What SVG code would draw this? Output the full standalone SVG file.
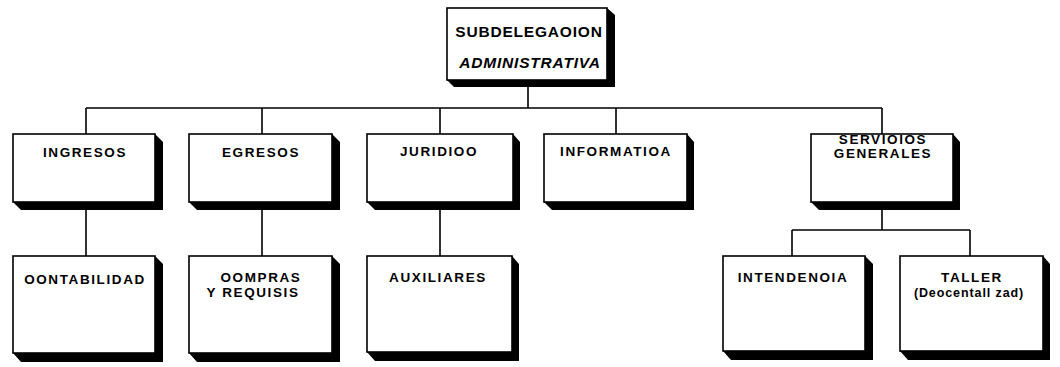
<svg xmlns="http://www.w3.org/2000/svg" width="1060" height="367" viewBox="0 0 1060 367">
<style>
.bg{fill:#fff}
.box{fill:#fff;stroke:#000;stroke-width:1.6}
.sh{fill:#000}
.t{font-family:"Liberation Sans",Arial,sans-serif;font-weight:bold;font-size:13.5px;letter-spacing:1.6px;text-anchor:middle;fill:#000}
.tt{font-family:"Liberation Sans",Arial,sans-serif;font-weight:bold;font-size:15.5px;letter-spacing:0.8px;text-anchor:middle;fill:#000}
.it{font-style:italic}
.c{fill:none;stroke:#000;stroke-width:1.6}
</style>
<rect class="bg" x="0" y="0" width="1060" height="367"/>
<g id="connectors">
<path class="c" d="M528 80V108M86 108H882M86 108V134M262 108V134M440 108V134M616 108V134M882 108V134"/>
<path class="c" d="M86 202V256M262 202V256M440 202V256"/>
<path class="c" d="M882 202V230M792 230H970M792 230V256M970 230V256"/>
</g>
<g id="subdelegacion">
<polygon class="sh" points="607,8 615,15 615,87 454,87 447,80 607,80"/>
<rect class="box" x="447" y="8" width="160" height="72"/>
<text class="tt" x="529" y="37">SUBDELEGAOION</text>
<text class="tt it" x="530" y="68">ADMINISTRATIVA</text>
</g>
<g id="ingresos">
<polygon class="sh" points="155,134 163,142 163,210 21,210 13,202 155,202"/>
<rect class="box" x="13" y="134" width="142" height="68"/>
<text class="t" x="85" y="157">INGRESOS</text>
</g>
<g id="egresos">
<polygon class="sh" points="332,134 340,142 340,210 197,210 189,202 332,202"/>
<rect class="box" x="189" y="134" width="143" height="68"/>
<text class="t" x="261" y="157">EGRESOS</text>
</g>
<g id="juridico">
<polygon class="sh" points="513,134 520,142 520,210 375,210 367,202 513,202"/>
<rect class="box" x="367" y="134" width="146" height="68"/>
<text class="t" x="439" y="156">JURIDIOO</text>
</g>
<g id="informatica">
<polygon class="sh" points="687,134 694,142 694,210 552,210 544,202 687,202"/>
<rect class="box" x="544" y="134" width="143" height="68"/>
<text class="t" x="616" y="156">INFORMATIOA</text>
</g>
<g id="servicios">
<polygon class="sh" points="953,134 960,142 960,210 819,210 811,202 953,202"/>
<rect class="box" x="811" y="134" width="142" height="68"/>
<text class="t" x="883" y="144">SERVIOIOS</text>
<text class="t" x="883" y="158">GENERALES</text>
</g>
<g id="contabilidad">
<polygon class="sh" points="155,256 163,264 163,362 21,362 13,353 155,353"/>
<rect class="box" x="13" y="256" width="142" height="97"/>
<text class="t" x="85" y="284">OONTABILIDAD</text>
</g>
<g id="compras">
<polygon class="sh" points="332,256 340,264 340,362 197,362 189,353 332,353"/>
<rect class="box" x="189" y="256" width="143" height="97"/>
<text class="t" x="261" y="282">OOMPRAS</text>
<text class="t" x="253" y="297">Y REQUISIS</text>
</g>
<g id="auxiliares">
<polygon class="sh" points="512,256 519,264 519,361 375,361 367,352 512,352"/>
<rect class="box" x="367" y="256" width="145" height="96"/>
<text class="t" x="438" y="282">AUXILIARES</text>
</g>
<g id="intendencia">
<polygon class="sh" points="865,256 873,264 873,360 731,360 723,351 865,351"/>
<rect class="box" x="723" y="256" width="142" height="95"/>
<text class="t" x="793" y="282">INTENDENOIA</text>
</g>
<g id="taller">
<polygon class="sh" points="1043,256 1050,264 1050,360 908,360 900,351 1043,351"/>
<rect class="box" x="900" y="256" width="143" height="95"/>
<text class="t" x="972" y="282">TALLER</text>
<text class="t" x="969" y="297" style="font-size:12.5px;letter-spacing:0.9px">(Deocentall zad)</text>
</g>
</svg>
